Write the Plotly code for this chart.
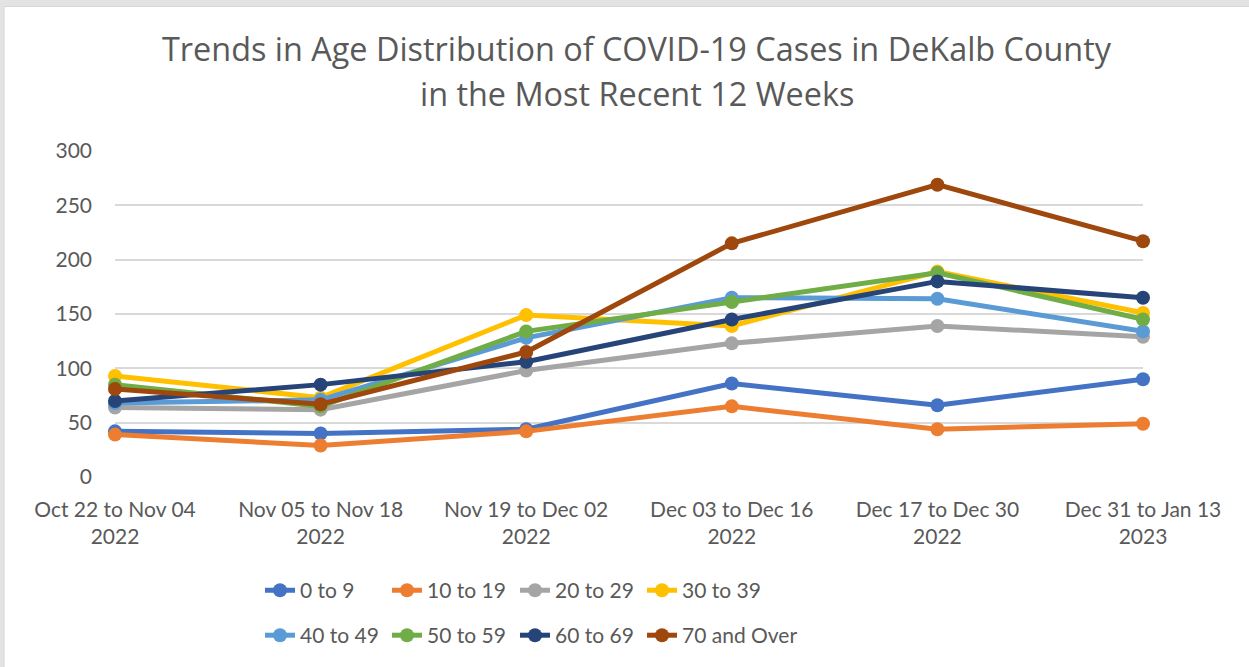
import plotly.graph_objects as go

categories = ["Oct 22 to Nov 04<br>2022", "Nov 05 to Nov 18<br>2022", "Nov 19 to Dec 02<br>2022",
              "Dec 03 to Dec 16<br>2022", "Dec 17 to Dec 30<br>2022", "Dec 31 to Jan 13<br>2023"]

age_0_9 = [42, 40, 44, 86, 66, 90]
age_10_19 = [39, 29, 42, 65, 44, 49]
age_20_29 = [64, 62, 98, 123, 139, 129]
age_30_39 = [93, 73, 149, 139, 189, 151]
age_40_49 = [68, 71, 128, 165, 164, 134]
age_50_59 = [85, 65, 134, 161, 188, 145]
age_60_69 = [70, 85, 106, 145, 180, 165]
age_70_over = [81, 67, 115, 215, 269, 217]

series_names = ["0 to 9", "10 to 19", "20 to 29", "30 to 39", "40 to 49", "50 to 59", "60 to 69", "70 and Over"]
series_values = [age_0_9, age_10_19, age_20_29, age_30_39, age_40_49, age_50_59, age_60_69, age_70_over]
colors = ["#4472C4", "#ED7D31", "#A5A5A5", "#FFC000", "#5B9BD5", "#70AD47", "#264478", "#9E480E"]

title_lines = ["Trends in Age Distribution of COVID-19 Cases in DeKalb County",
               "in the Most Recent 12 Weeks"]

W, H = 1249, 667
L, R, T, B = 115, 1143, 151, 478.3


def px_x(p):
    return (p - L) / (R - L)


def px_y(p):
    return (B - p) / (B - T)


legend_col_x = [260, 387, 515, 642]
legend_row_y = [591, 636]
legend_font = dict(family="Lato, sans-serif", size=21, color="#595959")

fig = go.Figure()
legends = {}
for i, (name, vals, col) in enumerate(zip(series_names, series_values, colors)):
    key = "legend" if i == 0 else f"legend{i + 1}"
    fig.add_trace(go.Scatter(
        x=list(range(len(categories))), y=vals, name=name,
        mode="lines+markers",
        line=dict(color=col, width=5),
        marker=dict(color=col, size=14),
        cliponaxis=False,
        showlegend=True,
        legend=key,
    ))
    legends[key] = dict(
        x=px_x(legend_col_x[i % 4]), y=px_y(legend_row_y[i // 4]),
        xanchor="left", yanchor="middle",
        font=legend_font, itemwidth=30, bgcolor="rgba(0,0,0,0)",
    )

font_fam = "Open Sans, Lato, sans-serif"
tick_font = dict(family="Lato, sans-serif", size=21, color="#595959")

title_y = [48, 93]
annotations = [
    dict(text=t, xref="paper", yref="paper", x=px_x(636.5), y=px_y(yy),
         xanchor="center", yanchor="middle", showarrow=False,
         font=dict(family=font_fam, size=32.4, color="#595959"))
    for t, yy in zip(title_lines, title_y)
]

fig.update_layout(
    width=W, height=H,
    showlegend=True,
    margin=dict(l=L, r=W - R, t=T, b=H - B),
    paper_bgcolor="#e3e3e3",
    plot_bgcolor="rgba(0,0,0,0)",
    annotations=annotations,
    xaxis=dict(
        range=[0, 5], tickmode="array", tickvals=list(range(len(categories))), ticktext=categories,
        showgrid=False, showline=False, zeroline=False, ticks="",
        tickfont=tick_font, ticklabelstandoff=18,
    ),
    yaxis=dict(
        range=[0, 300], tickvals=[0, 50, 100, 150, 200, 250, 300],
        showgrid=True, gridcolor="#d9d9d9", gridwidth=1.5, zeroline=False, showline=False, ticks="",
        tickfont=tick_font, ticklabelstandoff=22,
    ),
    shapes=[
        dict(type="rect", xref="paper", yref="paper", layer="below",
             x0=px_x(4), x1=px_x(W + 5), y0=px_y(H + 5), y1=px_y(6),
             fillcolor="white", line=dict(color="#d6d6d6", width=1)),
    ],
    **legends,
)

fig.write_html("out.html", config={"displayModeBar": False},
               post_script="document.body.style.margin='0';document.body.style.padding='0';")
